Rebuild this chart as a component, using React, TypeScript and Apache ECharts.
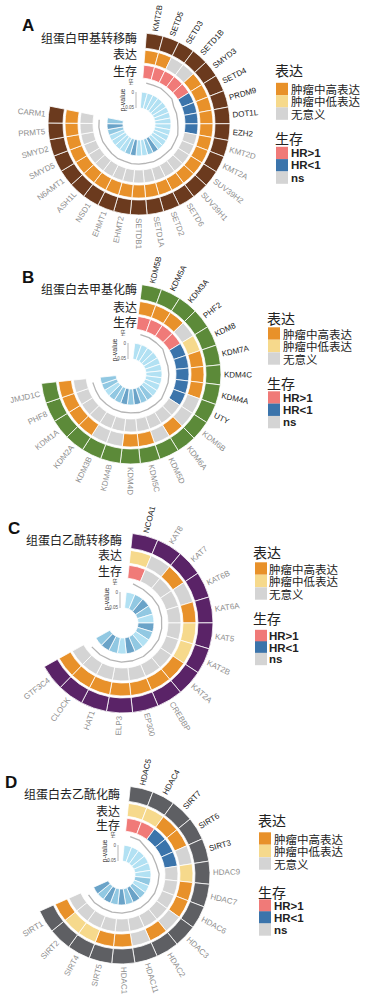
import React, { useEffect, useRef } from "react";
import * as echarts from "echarts";

// ---------------- DATA ----------------
const genesA = ["KMT2B","SETD5","SETD3","SETD1B","SMYD3","SETD4","PRDM9","DOT1L","EZH2","KMT2D","KMT2A","SUV39H2","SUV39H1","SETD6","SETD2","SETD1A","SETDB1","EHMT2","EHMT1","NSD1","ASH1L","N6AMT1","SMYD5","SMYD2","PRMT5","CARM1"];
const exprA = ["high","high","ns","ns","high","high","high","high","high","high","high","high","high","high","high","high","high","high","high","high","high","high","high","high","high","high"];
const survA = ["HR>1","HR>1","HR>1","HR>1","HR>1","HR<1","HR<1","HR<1","HR<1","ns","ns","ns","ns","ns","ns","ns","ns","ns","ns","ns","ns","ns","ns","ns","ns","ns"];
const pA = [0.042,0.045,0.038,0.044,0.041,0.046,0.043,0.039,0.044,0.047,0.042,0.04,0.036,0.012,0.022,0.04,0.043,0.008,0.03,0.041,0.044,0.039,0.037,0.028,0.011,0.02];
const hrA = [1.35,1.3,1.4,1.25,1.3,0.72,0.75,0.7,0.78,1.05,0.98,1.1,0.95,1.02,1.08,0.96,1.0,1.05,0.97,1.1,1.02,0.94,1.06,0.99,1.04,1.0];

const genesB = ["KDM5B","KDM5A","KDM3A","PHF2","KDM8","KDM7A","KDM4C","KDM4A","UTY","KDM6B","KDM6A","KDM5D","KDM5C","KDM4D","KDM4B","KDM3B","KDM2A","KDM1A","PHF8","JMJD1C"];
const exprB = ["high","high","high","ns","low","high","high","high","ns","ns","high","ns","high","high","ns","ns","high","high","high","high"];
const survB = ["HR>1","HR>1","HR>1","HR>1","HR<1","HR<1","HR<1","HR<1","HR<1","ns","ns","ns","ns","ns","ns","ns","ns","ns","ns","ns"];
const pB = [0.043,0.046,0.041,0.044,0.04,0.045,0.042,0.038,0.044,0.036,0.03,0.02,0.012,0.025,0.009,0.028,0.018,0.033,0.022,0.03];
const hrB = [1.3,1.35,1.25,1.3,0.75,0.7,0.72,0.78,0.74,1.05,0.97,1.02,1.08,0.95,1.0,1.04,0.98,1.06,0.96,1.01];

const genesC = ["NCOA1","KAT8","KAT7","KAT6B","KAT6A","KAT5","KAT2B","KAT2A","CREBBP","EP300","ELP3","HAT1","CLOCK","GTF3C4"];
const exprC = ["low","ns","high","ns","high","low","low","high","high","high","high","high","high","high"];
const survC = ["HR>1","ns","ns","ns","ns","ns","ns","ns","ns","ns","ns","ns","ns","ns"];
const pC = [0.042,0.03,0.01,0.025,0.044,0.012,0.028,0.04,0.022,0.009,0.041,0.027,0.011,0.024];
const hrC = [1.3,1.02,0.97,1.05,0.98,1.0,1.06,0.95,1.03,0.99,1.04,0.97,1.01,1.05];

const genesD = ["HDAC5","HDAC4","SIRT7","SIRT6","SIRT3","HDAC9","HDAC7","HDAC6","HDAC3","HDAC2","HDAC11","HDAC1","SIRT5","SIRT4","SIRT2","SIRT1"];
const exprD = ["low","low","high","high","ns","low","high","high","ns","high","ns","high","high","low","low","high"];
const survD = ["HR>1","HR>1","HR<1","HR<1","HR<1","ns","ns","ns","ns","ns","ns","ns","ns","ns","ns","ns"];
const pD = [0.044,0.042,0.046,0.04,0.043,0.041,0.028,0.039,0.024,0.01,0.026,0.012,0.022,0.009,0.027,0.013];
const hrD = [1.3,1.28,0.72,0.75,0.7,1.02,0.97,1.05,0.99,1.03,0.96,1.01,1.04,0.98,1.06,1.0];

const familyTitles = ["组蛋白甲基转移酶", "组蛋白去甲基化酶", "组蛋白乙酰转移酶", "组蛋白去乙酰化酶"];
const panelLetters = ["A", "B", "C", "D"];
const rowLabels = ["表达", "生存"];
const exprLegend = [["high", "肿瘤中高表达"], ["low", "肿瘤中低表达"], ["ns", "无意义"]];
const survLegend = [["HR>1", "HR>1"], ["HR<1", "HR<1"], ["ns", "ns"]];
const pTicks = ["0", "0.05"];

// ---------------- STYLE ----------------
const CJK = "'Noto Sans CJK SC', 'Liberation Sans', sans-serif";
const LAT = "'Liberation Sans', Arial, sans-serif";
const exprColor: Record<string, string> = { high: "#e8912a", low: "#f6d98c", ns: "#d4d4d4" };
const survColor: Record<string, string> = { "HR>1": "#f07a78", "HR<1": "#3b74ab", ns: "#d4d4d4" };
const familyColors = ["#6b3a1e", "#5c8a39", "#5a2367", "#5e5f63"];
const pColor = (p: number) => (p < 0.015 ? "#6aa3c8" : p < 0.033 ? "#91c8e2" : "#b2e1f3");

const layout = [
  { cx: 139, cy: 124, R: 91, start: 85.3, end: -191.3, letter: [22, 25], rowX: 137, rowY: [37, 53, 70],
    lg: { tx: 275, t1: 70, sx: 276, txt: 291, r1: [89, 101.3, 113.6], t2: 138, r2: [153, 165.3, 177.6] } },
  { cx: 131, cy: 374, R: 90, start: 83, end: -174, letter: [22, 277], rowX: 137, rowY: [288, 306, 321],
    lg: { tx: 267, t1: 318, sx: 268, txt: 283, r1: [333.5, 346, 358.5], t2: 383, r2: [397.5, 409.8, 422.1] } },
  { cx: 123, cy: 623, R: 90, start: 84, end: -151, letter: [8, 528], rowX: 122, rowY: [539, 554, 570],
    lg: { tx: 253, t1: 552, sx: 255, txt: 269, r1: [568.5, 581, 593.5], t2: 618, r2: [636, 647.5, 659] } },
  { cx: 121, cy: 875, R: 89, start: 84, end: -156, letter: [5, 782], rowX: 120, rowY: [793, 810, 824],
    lg: { tx: 258, t1: 820, sx: 259, txt: 274, r1: [838.5, 851, 863.5], t2: 892, r2: [905.5, 917.5, 929.5] } },
];

const panels = [
  { genes: genesA, expr: exprA, surv: survA, p: pA, hr: hrA },
  { genes: genesB, expr: exprB, surv: survB, p: pB, hr: hrB },
  { genes: genesC, expr: exprC, surv: survC, p: pC, hr: hrC },
  { genes: genesD, expr: exprD, surv: survD, p: pD, hr: hrD },
];

function buildOption() {
  const polar: any[] = [];
  const angleAxis: any[] = [];
  const radiusAxis: any[] = [];
  const series: any[] = [];
  const graphic: any[] = [];

  panels.forEach((pd, pi) => {
    const L = layout[pi];
    const R = L.R;
    const tracks = [
      { kind: "family", r: [R - 15, R] },
      { kind: "expr", r: [R - 30, R - 17] },
      { kind: "surv", r: [R - 45, R - 32] },
      { kind: "hr", r: [R - 54, R - 47] },
      { kind: "pval", r: [R - 75, R - 59] },
    ];
    tracks.forEach((t) => {
      const idx = polar.length;
      polar.push({ center: [L.cx, L.cy], radius: t.r });
      angleAxis.push({
        polarIndex: idx, type: "category", data: pd.genes, startAngle: L.start, endAngle: L.end,
        clockwise: true, boundaryGap: true, show: false,
      });
      radiusAxis.push({
        polarIndex: idx, type: "value", min: t.kind === "hr" ? 0.3 : 0, max: t.kind === "hr" ? 1.9 : 1, show: false,
      });
      if (t.kind === "hr") {
        series.push({
          type: "line", coordinateSystem: "polar", polarIndex: idx, data: pd.hr, symbol: "none",
          lineStyle: { color: "#b5b5b5", width: 1.3 }, silent: true,
        });
        return;
      }
      let colors: string[];
      if (t.kind === "family") colors = pd.genes.map(() => familyColors[pi]);
      else if (t.kind === "expr") colors = pd.expr.map((e) => exprColor[e]);
      else if (t.kind === "surv") colors = pd.surv.map((s) => survColor[s]);
      else colors = pd.p.map((p) => pColor(p));
      series.push({
        type: "bar", coordinateSystem: "polar", polarIndex: idx,
        data: pd.genes.map((g, i) => ({ name: g, value: 1, itemStyle: { color: colors[i] } })),
        barCategoryGap: "0%",
        itemStyle: { borderColor: "#ffffff", borderWidth: 0.8 },
        silent: true,
      });
      if (t.kind === "family") {
        series.push({
          type: "custom", coordinateSystem: "polar", polarIndex: idx, silent: true,
          data: pd.genes.map((g, i) => [1, i, i]),
          renderItem: (params: any, api: any) => {
            const i = api.value(2);
            const pt = api.coord([1, i]);
            const cs = params.coordSys;
            const dx = pt[0] - cs.cx;
            const dy = pt[1] - cs.cy;
            const len = Math.sqrt(dx * dx + dy * dy) || 1;
            const ux = dx / len, uy = dy / len;
            const ang = Math.atan2(-dy, dx);
            const right = ux > -0.02;
            const sig = pd.surv[i] !== "ns";
            return {
              type: "text",
              x: pt[0] + ux * 3, y: pt[1] + uy * 3,
              rotation: right ? ang : ang + Math.PI,
              style: {
                text: pd.genes[i], align: right ? "left" : "right", verticalAlign: "middle",
                fontSize: 8, lineHeight: 9, fontFamily: LAT, fill: sig ? "#222222" : "#8e8e8e",
              },
            };
          },
        });
      }
    });

    // panel letter
    graphic.push({ type: "text", x: L.letter[0], y: L.letter[1],
      style: { text: panelLetters[pi], fontSize: 17, fontWeight: "bold", fontFamily: LAT, fill: "#111", verticalAlign: "middle" } });
    // row labels
    [familyTitles[pi], rowLabels[0], rowLabels[1]].forEach((txt, k) => {
      graphic.push({ type: "text", x: L.rowX, y: L.rowY[k],
        style: { text: txt, fontSize: 12, lineHeight: 13, fontFamily: CJK, fill: "#222", align: "right", verticalAlign: "middle" } });
    });
    // small axes
    graphic.push({ type: "text", x: L.cx - 17, y: L.cy - 24, rotation: Math.PI / 2,
      style: { text: "p-value", fontSize: 7, lineHeight: 8, fontFamily: LAT, fill: "#333", align: "center", verticalAlign: "middle" } });
    graphic.push({ type: "line", shape: { x1: L.cx - 3, y1: L.cy - R + 59, x2: L.cx - 3, y2: L.cy - R + 75 },
      style: { stroke: "#888", lineWidth: 0.6 } });
    graphic.push({ type: "text", x: L.cx - 5, y: L.cy - R + 59,
      style: { text: pTicks[0], fontSize: 4.5, lineHeight: 5, fontFamily: LAT, fill: "#555", align: "right", verticalAlign: "middle" } });
    graphic.push({ type: "text", x: L.cx - 5, y: L.cy - R + 74,
      style: { text: pTicks[1], fontSize: 4.5, lineHeight: 5, fontFamily: LAT, fill: "#555", align: "right", verticalAlign: "middle" } });
    graphic.push({ type: "text", x: L.cx - 8, y: L.cy - R + 49, rotation: Math.PI / 2,
      style: { text: "HR", fontSize: 5, lineHeight: 6, fontFamily: LAT, fill: "#444", align: "center", verticalAlign: "middle" } });

    // legend
    const lg = L.lg;
    graphic.push({ type: "text", x: lg.tx, y: lg.t1,
      style: { text: rowLabels[0], fontSize: 14, lineHeight: 15, fontFamily: CJK, fill: "#222", verticalAlign: "middle" } });
    exprLegend.forEach(([k, lab], j) => {
      graphic.push({ type: "rect", shape: { x: lg.sx, y: lg.r1[j] - 6.2, width: 12, height: 12.4 }, style: { fill: exprColor[k] } });
      graphic.push({ type: "text", x: lg.txt, y: lg.r1[j],
        style: { text: lab, fontSize: 11.5, lineHeight: 12, fontFamily: CJK, fill: "#222", verticalAlign: "middle" } });
    });
    graphic.push({ type: "text", x: lg.tx, y: lg.t2,
      style: { text: rowLabels[1], fontSize: 14, lineHeight: 15, fontFamily: CJK, fill: "#222", verticalAlign: "middle" } });
    survLegend.forEach(([k, lab], j) => {
      graphic.push({ type: "rect", shape: { x: lg.sx, y: lg.r2[j] - 6.2, width: 12, height: 12.4 }, style: { fill: survColor[k] } });
      graphic.push({ type: "text", x: lg.txt, y: lg.r2[j],
        style: { text: lab, fontSize: 11.5, lineHeight: 12, fontWeight: "bold", fontFamily: LAT, fill: "#222", verticalAlign: "middle" } });
    });
  });

  return { animation: false, backgroundColor: "#ffffff", polar, angleAxis, radiusAxis, series, graphic };
}

export default function App() {
  const ref = useRef<HTMLDivElement>(null);
  useEffect(() => {
    const chart = echarts.init(ref.current as HTMLDivElement, null, { renderer: "svg" });
    chart.setOption(buildOption() as any);
    return () => chart.dispose();
  }, []);
  return (
    <div
      ref={ref}
      style={{ position: "absolute", left: 0, top: 0, width: 365, height: 1000, background: "#fff" }}
    />
  );
}
